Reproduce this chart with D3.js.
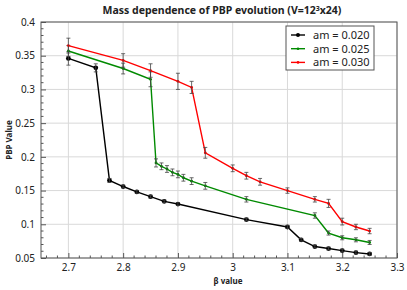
<!DOCTYPE html>
<html>
  <head>
    <meta charset="utf-8">
    <title>Mass dependence of PBP evolution</title>
    <script src="https://d3js.org/d3.v7.min.js"></script>
    <style>
      body { margin: 0; background: #fff; }
      text { font-family: "Noto Sans", "Open Sans", sans-serif; fill: #222; }
      .grid line { stroke: #d9d9d9; stroke-width: 1; }
      .axis path, .axis line { stroke: #555; }
      .axis text { font-size: 10px; fill: #222; }
    </style>
  </head>
  <body>
    <svg id="chart" width="407" height="290"></svg>
    <script>
      // data
      const labels = ["am = 0.020", "am = 0.025", "am = 0.030"];
      const colours = ["#000000", "#008a00", "#ff0000"];

      const beta020 = [2.7, 2.75, 2.775, 2.8, 2.825, 2.85, 2.875, 2.9, 3.025, 3.1, 3.125, 3.15, 3.175, 3.2, 3.225, 3.25];
      const pbp020  = [0.346, 0.332, 0.165, 0.156, 0.148, 0.141, 0.134, 0.130, 0.107, 0.096, 0.077, 0.067, 0.064, 0.061, 0.058, 0.056];
      const err020  = [0.010, 0.006, 0.003, 0.002, 0.002, 0.002, 0.002, 0.002, 0.002, 0.002, 0.002, 0.002, 0.002, 0.002, 0.002, 0.002];

      const beta025 = [2.7, 2.8, 2.85, 2.86, 2.87, 2.88, 2.89, 2.9, 2.91, 2.925, 2.95, 3.025, 3.15, 3.175, 3.2, 3.225, 3.25];
      const pbp025  = [0.357, 0.331, 0.315, 0.191, 0.186, 0.182, 0.177, 0.174, 0.169, 0.164, 0.157, 0.137, 0.113, 0.087, 0.080, 0.077, 0.073];
      const err025  = [0.008, 0.008, 0.011, 0.006, 0.005, 0.005, 0.005, 0.005, 0.005, 0.005, 0.005, 0.004, 0.004, 0.003, 0.003, 0.003, 0.003];

      const beta030 = [2.7, 2.8, 2.85, 2.9, 2.925, 2.95, 3.0, 3.025, 3.05, 3.1, 3.15, 3.175, 3.2, 3.225, 3.25];
      const pbp030  = [0.365, 0.343, 0.328, 0.312, 0.303, 0.206, 0.183, 0.172, 0.163, 0.150, 0.137, 0.131, 0.104, 0.096, 0.090];
      const err030  = [0.011, 0.010, 0.010, 0.012, 0.009, 0.008, 0.005, 0.005, 0.005, 0.004, 0.004, 0.006, 0.005, 0.004, 0.004];

      const xTicks = [2.7, 2.8, 2.9, 3.0, 3.1, 3.2, 3.3];
      const yTicks = [0.05, 0.1, 0.15, 0.2, 0.25, 0.3, 0.35, 0.4];

      const series = [
        { beta: beta020, pbp: pbp020, err: err020, big: true },
        { beta: beta025, pbp: pbp025, err: err025, big: false },
        { beta: beta030, pbp: pbp030, err: err030, big: false }
      ];

      const svg = d3.select("#chart");
      const plotL = 41, plotR = 397, plotT = 22, plotB = 258;

      const x = d3.scaleLinear().domain([2.65, 3.3]).range([plotL, plotR]);
      const y = d3.scaleLinear().domain([0.05, 0.4]).range([plotB, plotT]);

      // grid
      svg.append("g").attr("class", "grid")
        .selectAll("line").data(xTicks).enter().append("line")
          .attr("x1", d => x(d)).attr("x2", d => x(d))
          .attr("y1", plotT).attr("y2", plotB);
      svg.append("g").attr("class", "grid")
        .selectAll("line").data(yTicks).enter().append("line")
          .attr("x1", plotL).attr("x2", plotR)
          .attr("y1", d => y(d)).attr("y2", d => y(d));

      // minor ticks
      const xMinor = d3.range(2.66, 3.3, 0.02).filter(d => Math.abs(d * 10 - Math.round(d * 10)) > 0.01);
      const yMinor = d3.range(0.06, 0.4, 0.01).filter(d => Math.abs(d * 20 - Math.round(d * 20)) > 0.01);

      const xAxis = svg.append("g").attr("class", "axis")
        .attr("transform", "translate(0," + plotB + ")")
        .call(d3.axisBottom(x).tickValues(xTicks).tickFormat(d3.format("~g")).tickSize(-5).tickPadding(6));
      xAxis.select(".domain").remove();
      xAxis.selectAll(".minor").data(xMinor).enter().append("line")
        .attr("x1", d => x(d)).attr("x2", d => x(d))
        .attr("y1", 0).attr("y2", -2.5).attr("stroke", "#555");

      const yAxis = svg.append("g").attr("class", "axis")
        .attr("transform", "translate(" + plotL + ",0)")
        .call(d3.axisLeft(y).tickValues(yTicks).tickFormat(d3.format("~g")).tickSize(-5).tickPadding(6));
      yAxis.select(".domain").remove();
      yAxis.selectAll(".minor").data(yMinor).enter().append("line")
        .attr("y1", d => y(d)).attr("y2", d => y(d))
        .attr("x1", 0).attr("x2", 2.5).attr("stroke", "#555");

      // frame
      svg.append("rect")
        .attr("x", plotL).attr("y", plotT)
        .attr("width", plotR - plotL).attr("height", plotB - plotT)
        .attr("fill", "none").attr("stroke", "#555").attr("stroke-width", 1);

      // lines and markers
      const line = d3.line().x(d => x(d.b)).y(d => y(d.v));
      series.forEach(function(s, i) {
        const pts = s.beta.map((b, j) => ({ b: b, v: s.pbp[j], e: s.err[j] }));
        const g = svg.append("g");
        g.append("path").datum(pts)
          .attr("d", line).attr("fill", "none")
          .attr("stroke", colours[i]).attr("stroke-width", 1.4);
        g.selectAll(".pt").data(pts).enter().append("circle")
          .attr("cx", d => x(d.b)).attr("cy", d => y(d.v))
          .attr("r", s.big ? 2.4 : 1.4).attr("fill", colours[i]);
        const eb = g.selectAll(".eb").data(pts).enter().append("g")
          .attr("stroke", "#444").attr("stroke-width", 0.8);
        eb.append("line")
          .attr("x1", d => x(d.b)).attr("x2", d => x(d.b))
          .attr("y1", d => y(d.v - d.e)).attr("y2", d => y(d.v + d.e));
        eb.append("line")
          .attr("x1", d => x(d.b) - 2).attr("x2", d => x(d.b) + 2)
          .attr("y1", d => y(d.v - d.e)).attr("y2", d => y(d.v - d.e));
        eb.append("line")
          .attr("x1", d => x(d.b) - 2).attr("x2", d => x(d.b) + 2)
          .attr("y1", d => y(d.v + d.e)).attr("y2", d => y(d.v + d.e));
      });

      // legend
      const legend = svg.append("g").attr("transform", "translate(286,26)");
      legend.append("rect").attr("width", 88).attr("height", 44)
        .attr("fill", "#fff").attr("stroke", "#555");
      labels.forEach(function(l, i) {
        const row = legend.append("g").attr("transform", "translate(0," + (9 + i * 13.7) + ")");
        row.append("line").attr("x1", 5).attr("x2", 19).attr("y1", 0).attr("y2", 0)
          .attr("stroke", colours[i]).attr("stroke-width", 1.4);
        row.append("circle").attr("cx", 12).attr("cy", 0).attr("r", i === 0 ? 2 : 1.3).attr("fill", colours[i]);
        row.append("text").attr("x", 27).attr("y", 4).style("font-size", "11px").text(l);
      });

      // titles
      const title = svg.append("text")
        .attr("x", 222).attr("y", 14).attr("text-anchor", "middle")
        .style("font-size", "10.5px").style("font-weight", "bold");
      title.append("tspan").text("Mass dependence of PBP evolution (V=12");
      title.append("tspan").attr("dy", -3.5).style("font-size", "7px").text("3");
      title.append("tspan").attr("dy", 3.5).text("x24)");

      svg.append("text")
        .attr("x", 228).attr("y", 284).attr("text-anchor", "middle")
        .style("font-size", "8px").style("font-weight", "bold").text("β value");
      svg.append("text")
        .attr("transform", "translate(12,140) rotate(-90)").attr("text-anchor", "middle")
        .style("font-size", "8px").style("font-weight", "bold").text("PBP Value");
    </script>
  </body>
</html>
